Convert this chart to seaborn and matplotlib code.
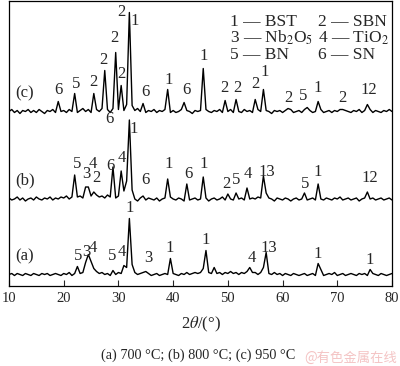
import numpy as np
import pandas as pd
import matplotlib
matplotlib.use('Agg')
import matplotlib.pyplot as plt
import seaborn as sns

# 2theta grid of the scans (0.5 deg step)
two_theta = np.arange(10, 80.01, 0.5)

# background noise (pixel units), one value per grid step
noise_c = [0, 2, -1, 1, -2, 1, 0, 2, -1, 1,
           -1, 2, 0, -2, 1, 0, 2, -1, 3, 0,
           1, -1, 2, 0, 2, -1, 1, 3, 0, 2,
           -1, 1, 2, 0, 3, 1, 2, -1, 3, 1,
           2, 0, 1, -1, 2, 0, 1, 3, 0, 1,
           -1, 1, 0, 2, -1, 1, 0, 2, 1, -1,
           1, -1, 0, 2, -1, 1, 0, -2, 1, 0,
           1, -1, 2, 0, -1, 1, 0, 2, -1, 1,
           0, 2, -1, 1, 0, -1, 2, 0, 1, -1,
           1, 2, 0, -1, 1, 0, -2, 1, 0, 1,
           -1, 1, 0, 2, -1, 0, 1, -1, 2, 0,
           1, -1, 0, 1, 2, -1, 0, 1, -1, 1,
           0, 2, -1, 1, 0, -1, 1, 0, 2, -1,
           1, 0, 2, -1, 1, 0, -1, 1, 0, 2,
           0]
noise_b = [1, -1, 0, 2, -1, 1, -2, 0, 1, -1,
           2, 0, -1, 1, 0, 2, -1, 1, 0, 2,
           1, 3, 0, 2, 4, 2, 3, 1, 4, 2,
           3, 1, 4, 2, 3, 1, 4, 2, 3, 1,
           3, 1, 2, 0, -1, 1, 0, -2, 1, 0,
           -1, 1, 0, -1, 1, -2, 0, 1, -1, 2,
           0, -1, 1, 0, -2, 1, -1, 0, 1, -1,
           0, -1, 1, -2, 0, 1, -1, 0, 2, -1,
           1, 0, -1, 2, 0, 1, -1, 2, 0, 1,
           0, 2, 1, 0, -1, 1, 0, -2, 1, 0,
           -1, 1, 0, -2, 0, 1, -1, 0, 1, -1,
           0, 1, -1, 2, 0, -1, 1, 0, -1, 1,
           0, 2, -1, 0, 1, -1, 0, 1, -2, 0,
           1, -1, 0, 1, -1, 0, 1, -1, 0, 1,
           -1]
noise_a = [0, 1, -1, 1, 0, -1, 1, 0, -1, 1,
           0, -1, 1, 0, 1, -1, 0, 1, 0, -1,
           1, 0, 2, -1, 1, 0, 1, 2, 1, 3,
           2, 1, 3, 1, 2, 0, 1, -1, 1, 0,
           2, 1, 0, 1, -1, 1, 2, 0, 1, 2,
           0, 1, -1, 0, 1, -1, 0, 1, 0, -1,
           1, 0, -1, 1, 0, 2, 0, 1, 2, 1,
           2, 1, 0, 2, 1, 3, 1, 2, 0, 2,
           1, 3, 1, 2, 0, 2, 1, 3, 1, 2,
           2, 0, 2, 1, 3, 1, 0, 2, 0, 1,
           -1, 1, 0, -1, 1, 0, -1, 0, 1, -1,
           0, 1, -1, 0, 1, -1, 0, 1, 0, 2,
           -1, 0, 1, -1, 0, 1, 0, -1, 1, 0,
           1, -1, 0, 1, 0, -1, 1, 0, -1, 0,
           1]

# peak positions (deg) and heights above background
peaks_c_pos = [19.0, 22.0, 25.5, 27.5, 29.5, 30.5, 31.5, 32.0, 32.5, 34.5, 39.0, 42.0,
               45.5, 49.5, 51.5, 55.0, 56.5, 61.0, 64.5, 66.5, 71.0, 75.5]
peaks_c_h = [7, 16, 17, 40, 58, 26, 8, 97, 6, 7, 21, 10,
             44, 10, 11, 11, 23, 3, 4, 9, 3, 7]
peaks_b_pos = [22.0, 24.0, 24.5, 25.5, 29.0, 30.5, 31.0, 31.5, 32.0, 32.5, 34.5, 39.0,
               42.5, 45.5, 50.0, 51.5, 53.5, 56.5, 57.0, 64.0, 66.5, 75.5]
peaks_b_h = [20, 8, 10, 6, 29, 27, 6, 18, 80, 8, 3, 21,
             14, 23, 4, 4, 9, 23, 7, 5, 13, 8]
peaks_a_pos = [22.5, 24.0, 24.5, 25.0, 25.5, 29.0, 31.0, 31.5, 32.0, 32.5, 35.0, 39.5,
               45.5, 46.0, 47.5, 54.0, 56.5, 57.0, 66.5, 67.0, 76.0]
peaks_a_h = [8, 11, 17, 11, 5, 3, 9, 6, 57, 9, 3, 17,
             5, 24, 4, 6, 6, 19, 11, 4, 5]

# vertical offsets of the three scans
offsets = {'a': 11, 'b': 86.5, 'c': 174}

# peak labels: (2theta, height, text)
labels_c = [(19.0, 195, '6'), (22.2, 201, '5'), (25.5, 203, '2'), (27.3, 226, '2'),
            (29.2, 247, '2'), (30.5, 211, '2'), (30.6, 274, '2'), (33.0, 265, '1'),
            (34.9, 194, '6'), (39.1, 205, '1'), (42.4, 196, '6'), (45.6, 230, '1'),
            (49.4, 197, '2'), (51.7, 197, '2'), (55.0, 202, '2'), (56.7, 213, '1'),
            (61.1, 188, '2'), (63.7, 190, '5'), (66.5, 197, '1'), (71.0, 187, '2'),
            (75.7, 195, '12')]
labels_b = [(28.3, 167, '6'), (32.7, 157, '1'), (22.4, 122, '5'), (24.1, 112, '3'),
            (25.3, 122, '4'), (26.0, 107, '2'), (28.6, 120, '6'), (30.6, 127, '4'),
            (34.9, 105, '6'), (39.1, 121, '1'), (42.8, 112, '6'), (45.6, 122, '1'),
            (49.8, 102, '2'), (51.5, 105, '5'), (53.7, 112, '4'), (57.2, 113, '13'),
            (64.1, 102, '5'), (66.5, 113, '1'), (75.9, 107, '12')]
labels_a = [(32.1, 77, '1'), (22.6, 30, '5'), (24.1, 34, '3'), (25.4, 37, '4'),
            (28.8, 29, '5'), (30.6, 34, '4'), (35.5, 28, '3'), (39.3, 37, '1'),
            (46.0, 45, '1'), (54.4, 27, '4'), (57.4, 38, '13'), (66.5, 32, '1'),
            (76.0, 26, '1')]

legend_items = ['1 — BST', '2 — SBN', '3 — Nb$_2$O$_5$', '4 — TiO$_2$', '5 — BN', '6 — SN']
xticks = [10, 20, 30, 40, 50, 60, 70, 80]


def build(noise, pos, h, off):
    y = np.array(noise, dtype=float)
    for p, v in zip(pos, h):
        y[int(round((p - 10) / 0.5))] += v
    return y + off


df = pd.concat([
    pd.DataFrame({'two_theta': two_theta, 'I': build(noise_a, peaks_a_pos, peaks_a_h, offsets['a']), 'scan': 'a'}),
    pd.DataFrame({'two_theta': two_theta, 'I': build(noise_b, peaks_b_pos, peaks_b_h, offsets['b']), 'scan': 'b'}),
    pd.DataFrame({'two_theta': two_theta, 'I': build(noise_c, peaks_c_pos, peaks_c_h, offsets['c']), 'scan': 'c'}),
])

sns.set_style('ticks')
plt.rcParams['font.family'] = ['Liberation Serif', 'DejaVu Serif']
plt.rcParams['mathtext.fontset'] = 'stix'

fig = plt.figure(figsize=(4, 3.66), dpi=100)
ax = fig.add_axes([9 / 400, 80.5 / 366, 383 / 400, 284.5 / 366])

for s in ['a', 'b', 'c']:
    sns.lineplot(data=df[df.scan == s], x='two_theta', y='I', ax=ax, color='black',
                 lw=1.0, estimator=None, sort=False)

ax.set_xlim(10, 80)
ax.set_ylim(0, 284.5)
ax.set_xticks(xticks)
ax.set_yticks([])
ax.tick_params(axis='x', direction='in', length=4, width=0.8, labelsize=10.5, pad=5)
for sp in ax.spines.values():
    sp.set_linewidth(0.9)
    sp.set_color('black')
ax.set_xlabel('2$\\theta$/(°)', fontsize=12, labelpad=7)
ax.set_ylabel('')

for lab in labels_c + labels_b + labels_a:
    ax.text(lab[0], lab[1], lab[2], ha='center', va='center', fontsize=12)

ax.text(12.8, 192.5, '(c)', ha='center', va='center', fontsize=12)
ax.text(12.9, 105.5, '(b)', ha='center', va='center', fontsize=12)
ax.text(12.9, 28.8, '(a)', ha='center', va='center', fontsize=12)

# legend drawn as text block
leg_x = [50.4, 66.5]
leg_y = [259.5, 242.8, 226.2]
for i, t in enumerate(legend_items):
    ax.text(leg_x[i % 2], leg_y[i // 2], t, ha='left', va='baseline', fontsize=12.5)

fig.text(0.495, 1 - 355 / 366, '(a) 700 °C; (b) 800 °C; (c) 950 °C', ha='center',
         va='center', fontsize=10.3)
fig.text(0.877, 1 - 358 / 366, '@有色金属在线', ha='center', va='center', fontsize=9.6,
         color='#f4c4c4', family=['Noto Sans CJK SC', 'DejaVu Sans'])

fig.savefig('out.png', dpi=100)
